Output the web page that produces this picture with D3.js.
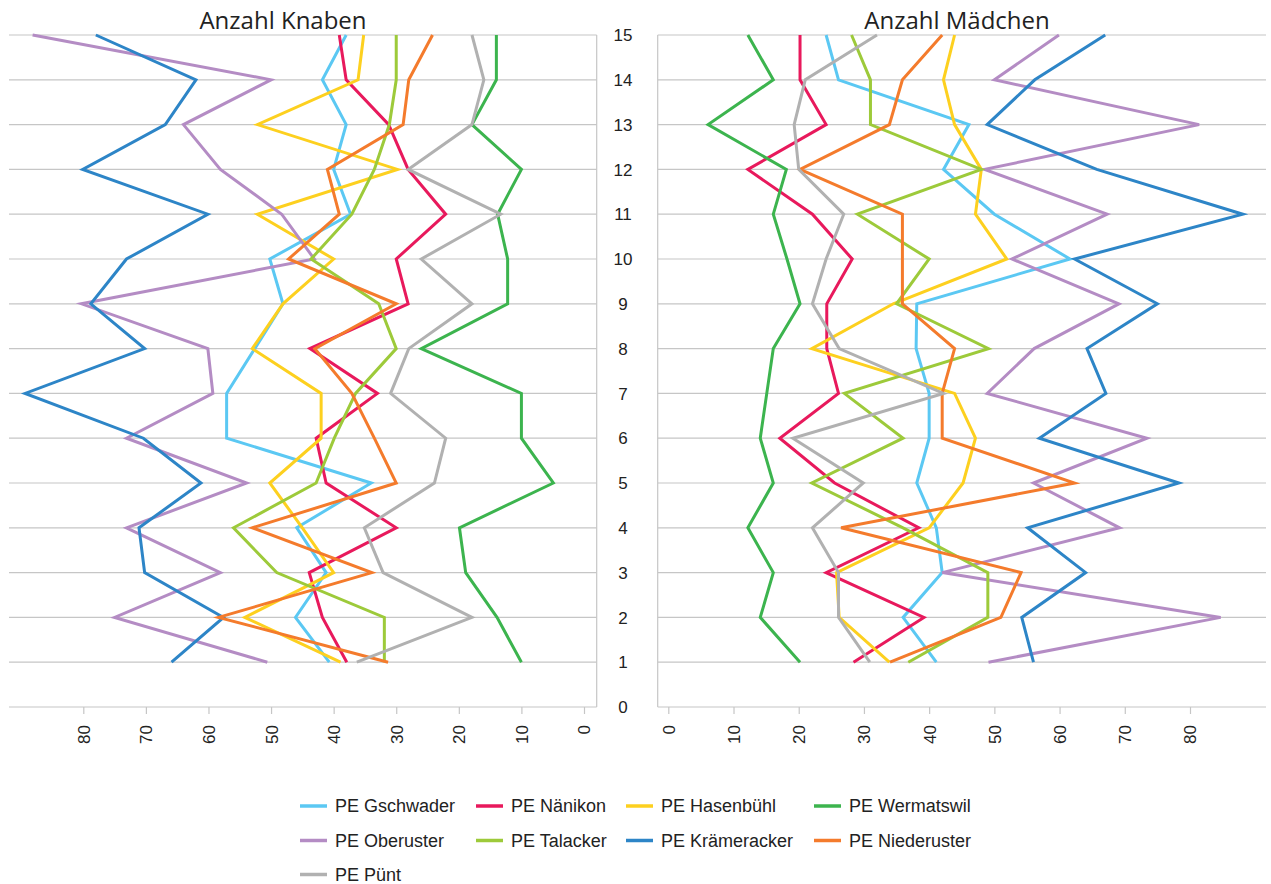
<!DOCTYPE html>
<html>
<head>
<meta charset="utf-8">
<script src="https://cdn.jsdelivr.net/npm/d3@7/dist/d3.min.js"></script>
<style>
  html, body { margin: 0; padding: 0; background: #ffffff; }
  svg { display: block; }
</style>
</head>
<body>
<svg id="chart" width="1271" height="884"></svg>
<script>
// ---- Data ----
const levels = [1, 2, 3, 4, 5, 6, 7, 8, 9, 10, 11, 12, 13, 14, 15];
const xTickValues = [0, 10, 20, 30, 40, 50, 60, 70, 80];
const yTickValues = [0, 1, 2, 3, 4, 5, 6, 7, 8, 9, 10, 11, 12, 13, 14, 15];
const seriesNames = ["PE Gschwader", "PE Nänikon", "PE Hasenbühl", "PE Wermatswil",
                     "PE Oberuster", "PE Talacker", "PE Krämeracker", "PE Niederuster", "PE Pünt"];
const seriesColors = ["#5bc8f3", "#e8195c", "#fdd01f", "#3cb44e",
                      "#b48cc4", "#9dca3a", "#2d85c7", "#f47b2c", "#b1b1b1"];
const panelTitles = ["Anzahl Knaben", "Anzahl Mädchen"];

// Boys (Knaben), values for levels 1..15
const knabenGschwader   = [40.7, 46.1, 41.2, 45.9, 34.0, 57.1, 57.1, 52.6, 48.1, 50.2, 37.3, 40.0, 38.0, 41.8, 38.0];
const knabenNaenikon    = [37.9, 41.8, 43.9, 30.0, 41.2, 42.8, 33.0, 43.8, 28.1, 30.0, 22.1, 28.1, 31.2, 38.0, 39.1];
const knabenHasenbuehl  = [38.9, 54.2, 40.0, 45.0, 50.2, 42.0, 42.0, 53.0, 48.1, 40.0, 52.2, 29.8, 52.2, 36.1, 35.2];
const knabenWermatswil  = [10.0, 13.9, 18.9, 19.9, 4.9, 10.0, 10.0, 26.0, 12.2, 12.2, 13.8, 10.0, 17.9, 14.0, 14.0];
const knabenOberuster   = [50.6, 75.0, 58.1, 73.1, 53.9, 73.1, 59.3, 60.1, 80.3, 43.1, 48.3, 58.1, 64.0, 50.0, 88.1];
const knabenTalacker    = [31.9, 31.9, 49.1, 56.0, 42.8, 39.9, 36.5, 30.0, 32.8, 43.6, 37.1, 33.5, 31.1, 30.0, 30.0];
const knabenKraemeracker= [65.9, 57.6, 70.2, 71.1, 61.2, 70.4, 89.3, 70.2, 78.8, 73.1, 60.1, 80.1, 66.9, 62.0, 78.0];
const knabenNiederuster = [31.3, 58.4, 33.9, 53.0, 30.0, 33.5, 37.1, 43.0, 30.0, 47.2, 39.1, 41.0, 28.9, 28.0, 24.2];
const knabenPuent       = [36.3, 17.9, 32.1, 35.1, 23.9, 22.1, 30.9, 28.0, 17.9, 26.0, 13.3, 28.1, 17.9, 16.0, 17.9];

// Girls (Mädchen), values for levels 1..15
const maedchenGschwader   = [41.1, 36.0, 42.0, 41.1, 38.1, 40.0, 40.0, 38.0, 38.1, 61.6, 50.0, 42.2, 46.1, 26.1, 24.2];
const maedchenNaenikon    = [28.4, 39.2, 24.2, 38.4, 25.5, 17.1, 26.1, 24.3, 24.3, 28.2, 22.1, 12.2, 24.2, 20.2, 20.2];
const maedchenHasenbuehl  = [33.9, 26.2, 25.8, 40.0, 45.2, 47.1, 43.9, 22.0, 34.5, 51.9, 47.1, 48.0, 43.9, 42.2, 43.9];
const maedchenWermatswil  = [20.2, 14.1, 16.1, 12.2, 16.1, 14.1, 15.1, 16.1, 20.2, 18.2, 16.1, 18.1, 6.1, 16.1, 12.2];
const maedchenOberuster   = [49.1, 84.7, 42.0, 69.2, 56.0, 73.4, 48.9, 56.1, 69.1, 52.7, 67.3, 48.5, 81.4, 50.0, 59.9];
const maedchenTalacker    = [36.8, 49.0, 49.0, 36.0, 22.0, 36.0, 27.0, 49.1, 35.0, 40.0, 29.0, 48.0, 31.0, 31.0, 28.1];
const maedchenKraemeracker= [56.0, 54.2, 64.0, 55.1, 78.3, 56.9, 67.1, 64.2, 75.0, 62.3, 88.1, 65.7, 48.9, 56.2, 67.0];
const maedchenNiederuster = [34.0, 51.0, 54.1, 26.5, 62.3, 42.0, 42.0, 43.9, 35.9, 35.9, 35.9, 20.2, 33.9, 35.9, 42.0];
const maedchenPuent       = [30.9, 26.1, 26.1, 22.1, 29.9, 19.1, 42.2, 26.2, 22.1, 24.2, 26.9, 20.0, 19.3, 21.0, 32.0];

const knabenSeries = [knabenGschwader, knabenNaenikon, knabenHasenbuehl, knabenWermatswil,
  knabenOberuster, knabenTalacker, knabenKraemeracker, knabenNiederuster, knabenPuent];
const maedchenSeries = [maedchenGschwader, maedchenNaenikon, maedchenHasenbuehl, maedchenWermatswil,
  maedchenOberuster, maedchenTalacker, maedchenKraemeracker, maedchenNiederuster, maedchenPuent];

// ---- Layout ----
const svg = d3.select("#chart");
const gridColor = "#c6c6c6";
const textColor = "#222222";

const y = d3.scaleLinear().domain([0, 15]).range([707, 35]);

const panels = [
  { title: panelTitles[0], data: knabenSeries,
    x: d3.scaleLinear().domain([0, 80]).range([584, 83.3]),
    left: 9, right: 596.7, axisX: 596.7, titleX: 283 },
  { title: panelTitles[1], data: maedchenSeries,
    x: d3.scaleLinear().domain([0, 80]).range([668.3, 1190]),
    left: 657.7, right: 1266, axisX: 657.7, titleX: 957 }
];

panels.forEach(p => {
  const g = svg.append("g");

  // horizontal gridlines
  g.selectAll("line.grid").data(yTickValues).enter().append("line")
    .attr("x1", p.left).attr("x2", p.right)
    .attr("y1", d => y(d)).attr("y2", d => y(d))
    .attr("stroke", gridColor).attr("stroke-width", 1.2);

  // vertical axis line
  g.append("line")
    .attr("x1", p.axisX).attr("x2", p.axisX)
    .attr("y1", y(15)).attr("y2", y(0))
    .attr("stroke", gridColor).attr("stroke-width", 1.2);

  // bottom axis with ticks
  const axis = d3.axisBottom(p.x).tickValues(xTickValues).tickSize(7).tickPadding(0).tickFormat(d3.format("d"));
  const ag = g.append("g").attr("transform", `translate(0, ${y(0)})`).call(axis);
  ag.select(".domain").remove();
  ag.selectAll(".tick line").attr("stroke", gridColor).attr("stroke-width", 1.2);
  ag.selectAll(".tick text")
    .attr("transform", "translate(0, 18) rotate(-90)")
    .attr("x", 0).attr("y", 0).attr("dy", "0.35em")
    .attr("text-anchor", "end")
    .attr("fill", textColor)
    .style("font-family", "'Liberation Sans', Arial, sans-serif")
    .style("font-size", "17px");

  // title
  g.append("text")
    .attr("x", p.titleX).attr("y", 29)
    .attr("text-anchor", "middle")
    .attr("fill", textColor)
    .style("font-family", "'Open Sans', 'Lato', sans-serif")
    .style("font-size", "24px")
    .text(p.title);

  // lines
  const line = d3.line().x(d => p.x(d.v)).y(d => y(d.level));
  p.data.forEach((vals, i) => {
    const pts = levels.map((lv, j) => ({ level: lv, v: vals[j] }));
    g.append("path")
      .datum(pts)
      .attr("d", line)
      .attr("fill", "none")
      .attr("stroke", seriesColors[i])
      .attr("stroke-width", 3)
      .attr("stroke-linejoin", "miter")
      .attr("stroke-miterlimit", 4);
  });
});

// y labels in the middle
svg.append("g").selectAll("text").data(yTickValues).enter().append("text")
  .attr("x", 623).attr("y", d => y(d)).attr("dy", "0.36em")
  .attr("text-anchor", "middle")
  .attr("fill", textColor)
  .style("font-family", "'Liberation Sans', Arial, sans-serif")
  .style("font-size", "17px")
  .text(d => d);

// legend
const legendCols = [300, 476, 626, 814];
const legendRows = [806, 840.5, 874.5];
const lg = svg.append("g");
seriesNames.forEach((name, i) => {
  const cx = legendCols[i % 4];
  const cy = legendRows[Math.floor(i / 4)];
  lg.append("line")
    .attr("x1", cx).attr("x2", cx + 27)
    .attr("y1", cy).attr("y2", cy)
    .attr("stroke", seriesColors[i]).attr("stroke-width", 3.5);
  lg.append("text")
    .attr("x", cx + 35).attr("y", cy).attr("dy", "0.36em")
    .attr("fill", textColor)
    .style("font-family", "'Liberation Sans', Arial, sans-serif")
    .style("font-size", "18px")
    .text(name);
});
</script>
</body>
</html>
